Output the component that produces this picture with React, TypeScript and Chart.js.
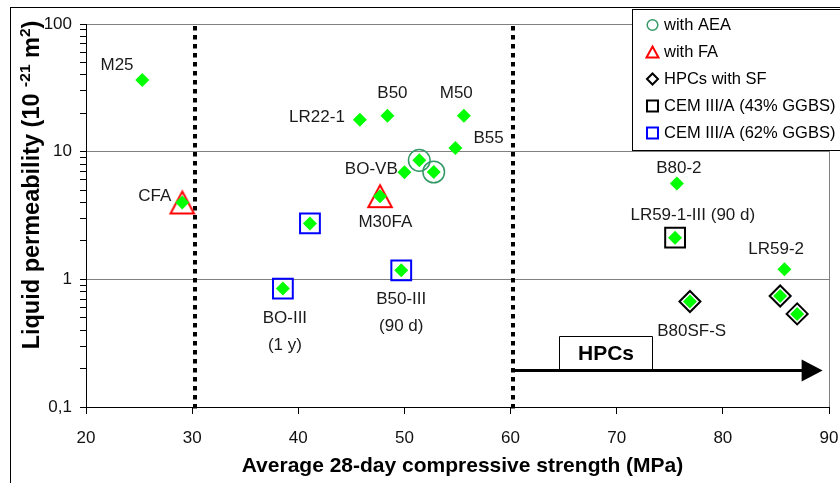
import React, { useEffect, useRef } from 'react';
import { Chart, registerables } from 'chart.js';

Chart.register(...registerables);

// Average 28-day compressive strength (MPa) of each mix
const STRENGTH_MPA = [25.3, 29.07, 45.8, 48.4, 55.6, 54.8, 51.4, 52.76, 50.0, 47.7, 41.1, 38.55, 49.7, 75.67, 75.5, 85.8, 76.9, 85.4, 87.0];
// Liquid permeability (10^-21 m²) of each mix
const PERMEABILITY = [36.5, 4.0, 17.8, 19.1, 19.1, 10.7, 8.55, 6.93, 6.9, 4.48, 2.74, 0.846, 1.176, 5.62, 2.12, 1.2, 0.67, 0.74, 0.536];
// Mix names written next to the points ('' = unnamed, '\n' = second line)
const MIX_LABELS = ['M25', 'CFA', 'LR22-1', 'B50', 'M50', 'B55', '', '', 'BO-VB', 'M30FA', '', 'BO-III\n(1 y)', 'B50-III\n(90 d)', 'B80-2', 'LR59-1-III (90 d)', 'LR59-2', 'B80SF-S', '', ''];
// Binder / admixture family of each mix
const MIX_GROUP = ['', 'FA', '', '', '', '', 'AEA', 'AEA', '', 'FA', 'GGBS62', 'GGBS62', 'GGBS62', '', 'GGBS43', '', 'SF', 'SF', 'SF'];

const LEGEND_GROUPS = ['AEA', 'FA', 'SF', 'GGBS43', 'GGBS62'];
const LEGEND_TEXT = ['with AEA', 'with FA', 'HPCs with SF', 'CEM III/A (43% GGBS)', 'CEM III/A (62% GGBS)'];

const X_TICKS = [20, 30, 40, 50, 60, 70, 80, 90];
const Y_DECADES = [0.1, 1, 10, 100];
const Y_TICK_LABELS = ['0,1', '1', '10', '100'];
const Y_MINOR = [0.2, 0.3, 0.4, 0.5, 0.6, 0.7, 0.8, 0.9, 2, 3, 4, 5, 6, 7, 8, 9, 20, 30, 40, 50, 60, 70, 80, 90];

// Strength class limits (dotted) and the high-performance range arrow
const CLASS_LIMITS = [30.3, 60.2];
const HPC_ARROW = { from: 60.2, to: 89.4, level: 0.195 };
const HPC_BOX = { from: 64.55, to: 73.3, top: 0.36, text: 'HPCs' };

const X_TITLE = 'Average 28-day compressive strength (MPa)';
const Y_TITLE_PARTS: [string, boolean][] = [
  ['Liquid permeability (10 ', false],
  ['-21', true],
  [' m', false],
  ['2', true],
  [')', false],
];

// Label placement relative to its point: [dx, dy, align]
const LABEL_PLACE: ([number, number, CanvasTextAlign] | null)[] = [
  [-8.7, -14.5, 'right'],
  [-11, -5.7, 'right'],
  [-15, -2, 'right'],
  [5, -22, 'center'],
  [-7.6, -22, 'center'],
  [18, -10, 'left'],
  null,
  null,
  [-6.7, -2.7, 'right'],
  [5.3, 26.6, 'center'],
  null,
  [2, 30, 'center'],
  [0, 28.5, 'center'],
  [2, -15, 'center'],
  [17.7, -22.6, 'center'],
  [-8.3, -19.5, 'center'],
  [1.7, 30, 'center'],
  null,
  null,
];

const FONT = '"Liberation Sans", Arial, sans-serif';
const GREEN = '#00ff00';
const AEA_COLOR = '#339966';
const FA_COLOR = '#ff0000';
const GGBS62_COLOR = '#0000ff';
const GRID = '#808080';

function triangleMarker(w: number, h: number, lw: number, color: string) {
  const c = document.createElement('canvas');
  c.width = Math.ceil(w + lw * 6);
  c.height = Math.ceil(h + lw * 6);
  const g = c.getContext('2d')!;
  g.strokeStyle = color;
  g.lineWidth = lw;
  const cx = c.width / 2;
  const top = (c.height - h) / 2;
  const bot = top + h;
  g.beginPath();
  g.moveTo(cx, top);
  g.lineTo(cx + w / 2, bot);
  g.lineTo(cx - w / 2, bot);
  g.closePath();
  g.stroke();
  return c;
}

function pointsOf(group: string) {
  const out: { x: number; y: number }[] = [];
  MIX_GROUP.forEach((g, i) => {
    if (g === group) out.push({ x: STRENGTH_MPA[i], y: PERMEABILITY[i] });
  });
  return out;
}

export default function App() {
  const ref = useRef<HTMLCanvasElement>(null);

  useEffect(() => {
    const canvas = ref.current!;
    const tri = triangleMarker(23.5, 22, 2, FA_COLOR);

    const backdrop = {
      id: 'backdrop',
      beforeDraw(chart: any) {
        const ctx = chart.ctx;
        ctx.save();
        ctx.fillStyle = '#fff';
        ctx.fillRect(0, 0, chart.width, chart.height);
        ctx.strokeStyle = '#000';
        ctx.lineWidth = 1;
        ctx.strokeRect(10.5, 7.5, chart.width + 20, chart.height + 20);
        ctx.restore();
      },
    };

    const guides = {
      id: 'guides',
      beforeDatasetsDraw(chart: any) {
        const { ctx, chartArea: a, scales } = chart;
        const xs = scales.x;
        const ys = scales.y;
        ctx.save();
        // strength class limits
        ctx.strokeStyle = '#000';
        ctx.lineWidth = 4;
        ctx.setLineDash([4.5, 4.5]);
        CLASS_LIMITS.forEach((v) => {
          const px = Math.round(xs.getPixelForValue(v));
          ctx.beginPath();
          ctx.moveTo(px, a.top + 2);
          ctx.lineTo(px, a.bottom + 2);
          ctx.stroke();
        });
        ctx.setLineDash([]);
        // HPC arrow
        const ay = Math.round(ys.getPixelForValue(HPC_ARROW.level)) + 0.5;
        const x0 = xs.getPixelForValue(HPC_ARROW.from);
        const x1 = xs.getPixelForValue(HPC_ARROW.to);
        ctx.lineWidth = 3;
        ctx.beginPath();
        ctx.moveTo(x0, ay);
        ctx.lineTo(x1 - 18, ay);
        ctx.stroke();
        ctx.fillStyle = '#000';
        ctx.beginPath();
        ctx.moveTo(x1, ay);
        ctx.lineTo(x1 - 21, ay - 11);
        ctx.lineTo(x1 - 21, ay + 11);
        ctx.closePath();
        ctx.fill();
        // HPC box
        const bx0 = Math.round(xs.getPixelForValue(HPC_BOX.from)) + 0.5;
        const bx1 = Math.round(xs.getPixelForValue(HPC_BOX.to)) + 0.5;
        const by0 = Math.round(ys.getPixelForValue(HPC_BOX.top)) + 0.5;
        ctx.fillStyle = '#fff';
        ctx.fillRect(bx0, by0, bx1 - bx0, ay - 1.5 - by0);
        ctx.lineWidth = 1;
        ctx.beginPath();
        ctx.moveTo(bx0, ay - 1);
        ctx.lineTo(bx0, by0);
        ctx.lineTo(bx1, by0);
        ctx.lineTo(bx1, ay - 1);
        ctx.stroke();
        ctx.fillStyle = '#000';
        ctx.font = `bold 21px ${FONT}`;
        ctx.textAlign = 'center';
        ctx.textBaseline = 'middle';
        ctx.fillText(HPC_BOX.text, (bx0 + bx1) / 2, (by0 + ay) / 2 + 1);
        ctx.restore();
      },
    };

    const labels = {
      id: 'mixLabels',
      afterDatasetsDraw(chart: any) {
        const { ctx, scales } = chart;
        ctx.save();
        ctx.fillStyle = '#1a1a1a';
        ctx.font = `17px ${FONT}`;
        ctx.textBaseline = 'middle';
        MIX_LABELS.forEach((text, i) => {
          const place = LABEL_PLACE[i];
          if (!text || !place) return;
          const px = scales.x.getPixelForValue(STRENGTH_MPA[i]);
          const py = scales.y.getPixelForValue(PERMEABILITY[i]);
          ctx.textAlign = place[2];
          text.split('\n').forEach((line, k) => {
            ctx.fillText(line, px + place[0], py + place[1] + k * 27);
          });
        });
        ctx.restore();
      },
    };

    const axisTitles = {
      id: 'axisTitles',
      afterDraw(chart: any) {
        const { ctx } = chart;
        ctx.save();
        ctx.fillStyle = '#000';
        // x title
        ctx.font = `bold 21px ${FONT}`;
        ctx.textAlign = 'center';
        ctx.textBaseline = 'middle';
        ctx.fillText(X_TITLE, 462.5, 466);
        // y title with superscripts
        const big = `bold 23.5px ${FONT}`;
        const small = `bold 15.5px ${FONT}`;
        let total = 0;
        Y_TITLE_PARTS.forEach(([t, sup]) => {
          ctx.font = sup ? small : big;
          total += ctx.measureText(t).width;
        });
        ctx.translate(38.5, 185);
        ctx.rotate(-Math.PI / 2);
        ctx.textAlign = 'left';
        ctx.textBaseline = 'alphabetic';
        let x = -total / 2;
        Y_TITLE_PARTS.forEach(([t, sup]) => {
          ctx.font = sup ? small : big;
          ctx.fillText(t, x, sup ? -9 : 0);
          x += ctx.measureText(t).width;
        });
        ctx.restore();
      },
    };

    const legendBox = {
      id: 'legendBox',
      afterDraw(chart: any) {
        const { ctx } = chart;
        ctx.save();
        ctx.fillStyle = '#fff';
        ctx.fillRect(632.5, 9.5, 220, 141);
        ctx.strokeStyle = '#000';
        ctx.lineWidth = 1;
        ctx.strokeRect(632.5, 9.5, 220, 141);
        ctx.font = `16.5px ${FONT}`;
        ctx.textBaseline = 'middle';
        ctx.textAlign = 'left';
        LEGEND_GROUPS.forEach((g, i) => {
          const cy = 25 + i * 27;
          const cx = 652.5;
          ctx.lineWidth = 2;
          ctx.beginPath();
          if (g === 'AEA') {
            ctx.strokeStyle = AEA_COLOR;
            ctx.lineWidth = 1.5;
            ctx.arc(cx, cy, 5.3, 0, Math.PI * 2);
          } else if (g === 'FA') {
            ctx.strokeStyle = FA_COLOR;
            ctx.moveTo(cx, cy - 5.5);
            ctx.lineTo(cx + 6, cy + 5.5);
            ctx.lineTo(cx - 6, cy + 5.5);
            ctx.closePath();
          } else if (g === 'SF') {
            ctx.strokeStyle = '#000';
            ctx.moveTo(cx - 5.5, cy);
            ctx.lineTo(cx, cy - 5.5);
            ctx.lineTo(cx + 5.5, cy);
            ctx.lineTo(cx, cy + 5.5);
            ctx.closePath();
          } else {
            ctx.strokeStyle = g === 'GGBS43' ? '#000' : GGBS62_COLOR;
            ctx.rect(cx - 5.5, cy - 5.5, 11, 11);
          }
          ctx.stroke();
          ctx.fillStyle = '#000';
          ctx.fillText(LEGEND_TEXT[i], 664, cy + 0.5);
        });
        ctx.restore();
      },
    };

    const isDecade = (v: number) => Y_DECADES.includes(v);

    const chart = new Chart(canvas, {
      type: 'scatter',
      data: {
        datasets: [
          {
            data: STRENGTH_MPA.map((x, i) => ({ x, y: PERMEABILITY[i] })),
            pointStyle: 'rectRot',
            radius: 7,
            backgroundColor: GREEN,
            borderColor: GREEN,
            borderWidth: 0,
          },
          {
            data: pointsOf('AEA'),
            pointStyle: 'circle',
            radius: 10.8,
            backgroundColor: 'rgba(0,0,0,0)',
            borderColor: AEA_COLOR,
            borderWidth: 1.5,
          },
          {
            data: pointsOf('FA'),
            pointStyle: tri as any,
            radius: 12,
          },
          {
            data: pointsOf('SF'),
            pointStyle: 'rectRot',
            radius: 10.5,
            backgroundColor: '#fff',
            borderColor: '#000',
            borderWidth: 2,
          },
          {
            data: pointsOf('GGBS43'),
            pointStyle: 'rect',
            radius: 14,
            backgroundColor: 'rgba(0,0,0,0)',
            borderColor: '#000',
            borderWidth: 2,
          },
          {
            data: pointsOf('GGBS62'),
            pointStyle: 'rect',
            radius: 14,
            backgroundColor: 'rgba(0,0,0,0)',
            borderColor: GGBS62_COLOR,
            borderWidth: 2,
          },
        ],
      },
      options: {
        animation: false,
        responsive: false,
        devicePixelRatio: 1,
        layout: { autoPadding: false, padding: { left: 10, top: 24, right: 11, bottom: 0 } },
        plugins: { legend: { display: false }, tooltip: { enabled: false } },
        scales: {
          x: {
            type: 'linear',
            min: 20,
            max: 90,
            afterBuildTicks: (s: any) => {
              s.ticks = X_TICKS.map((v) => ({ value: v }));
            },
            afterFit: (s: any) => {
              s.height = 76;
              s.paddingLeft = 0;
              s.paddingRight = 0;
            },
            border: { display: true, color: '#000', width: 1 },
            grid: {
              color: (c: any) => (c.tick && c.tick.value === 90 ? GRID : 'rgba(0,0,0,0)'),
              tickColor: '#000',
              tickLength: 7,
            },
            ticks: {
              font: { family: FONT, size: 17 },
              color: '#111',
              padding: 14,
              maxRotation: 0,
              autoSkip: false,
            },
          },
          y: {
            type: 'logarithmic',
            min: 0.1,
            max: 100,
            afterBuildTicks: (s: any) => {
              s.ticks = [...Y_DECADES, ...Y_MINOR]
                .sort((a, b) => a - b)
                .map((v) => ({ value: v, major: isDecade(v) }));
            },
            afterFit: (s: any) => {
              s.width = 76;
            },
            border: { display: true, color: '#000', width: 1 },
            grid: {
              color: (c: any) => (c.tick && isDecade(c.tick.value) ? GRID : 'rgba(0,0,0,0)'),
              tickColor: '#000',
              tickLength: 6,
            },
            ticks: {
              font: { family: FONT, size: 17 },
              color: '#111',
              padding: 8,
              autoSkip: false,
              callback: (v: any) => {
                const k = Y_DECADES.indexOf(Number(v));
                return k >= 0 ? Y_TICK_LABELS[k] : '';
              },
            },
          },
        },
      },
      plugins: [backdrop, guides, labels, axisTitles, legendBox],
    } as any);

    return () => chart.destroy();
  }, []);

  return (
    <canvas
      ref={ref}
      width={840}
      height={483}
      style={{ position: 'fixed', left: 0, top: 0, width: 840, height: 483, display: 'block', background: '#fff' }}
    />
  );
}
